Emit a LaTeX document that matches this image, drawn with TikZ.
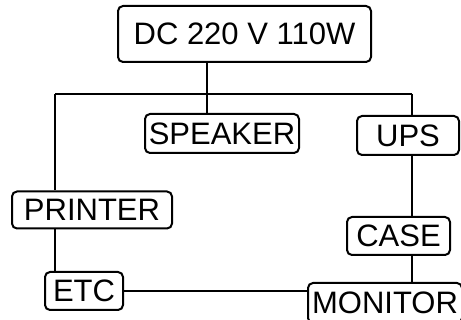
\documentclass[tikz,border=0pt]{standalone}
\usepackage{fontspec}
\setmainfont{Liberation Sans}
\usepackage{tikz}
\usetikzlibrary{positioning,calc}

\begin{document}
\begin{tikzpicture}[x=1pt, y=-1pt, line width=2pt]
  \tikzstyle{unit} = [rectangle, draw, rounded corners=5pt, inner sep=0pt, font=\fontsize{31}{37}\selectfont]

  \useasboundingbox (0,0) rectangle (461,320);

  % boxes
  \node[unit, minimum width=253pt, minimum height=56pt] (dc) at (244.5,34) {DC 220 V 110W};
  \node[unit, minimum width=154pt, minimum height=39pt] (speaker) at (222,133.5) {SPEAKER};
  \node[unit, minimum width=102pt, minimum height=39pt] (ups) at (408,135.5) {UPS};
  \node[unit, minimum width=160pt, minimum height=37pt] (printer) at (92,210) {PRINTER};
  \node[unit, minimum width=103pt, minimum height=38pt] (case) at (398.5,236) {CASE};
  \node[unit, minimum width=78pt, minimum height=38pt] (etc) at (84,291) {ETC};
  \node[unit, minimum width=154pt, minimum height=40pt] (monitor) at (385,303) {MONITOR};

  % bus
  \coordinate (busl) at (55,94);
  \coordinate (busm) at (207,94);
  \coordinate (busr) at (412,94);
  \draw (busl) -- (busr);
  \draw (dc.south -| busm) -- (speaker.north -| busm);
  \draw (busl) -- (printer.north -| busl);
  \draw (printer.south -| busl) -- (etc.north -| busl);
  \draw (busr) -- (ups.north -| busr);
  \draw (ups.south -| busr) -- (case.north -| busr);
  \draw (case.south -| busr) -- (monitor.north -| busr);
  \draw (etc.east) -- (monitor.west |- etc.east);
\end{tikzpicture}
\end{document}
